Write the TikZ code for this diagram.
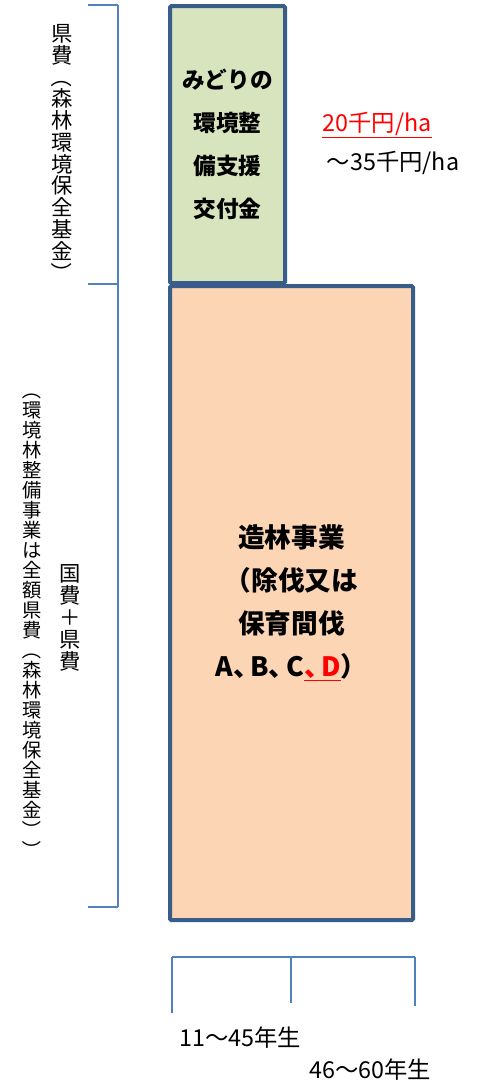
\documentclass[tikz,border=0pt]{standalone}
\usepackage{fontspec}
\setmainfont{Noto Sans CJK JP}
\usepackage{tikz}
\usetikzlibrary{positioning}
\definecolor{boxline}{HTML}{385D8A}
\definecolor{brace}{HTML}{4F81BD}
\definecolor{greenfill}{HTML}{D7E4BD}
\definecolor{orangefill}{HTML}{FCD5B5}
\tikzstyle{fundbox} = [rectangle, draw=boxline, line width=3pt, rounded corners=1pt, inner sep=0pt, align=center, font=\bfseries]
\tikzstyle{vtext} = [inner sep=0pt, align=center]
\tikzstyle{label} = [inner sep=0pt, font=\fontsize{17.5}{20}\selectfont]
\tikzstyle{line} = [draw=brace, line width=1.2pt]
\newcommand{\vparen}[1]{\rotatebox[origin=c]{-90}{#1}}
\newcommand{\tc}{、\kern-0.35em}

\begin{document}
\begin{tikzpicture}[x=0.75pt, y=-0.75pt]
	\useasboundingbox (0,0) rectangle (493,1083);
	% Place nodes
	\node [fundbox, fill=orangefill, minimum width=182.25pt, minimum height=475.5pt,
	font=\bfseries\fontsize{20}{32.25}\selectfont] (zorin) at (291.5,603)
	{造林事業\\（除伐又は\\保育間伐\\A\tc B\tc C{\color{red}\underline{\tc D}}）};
	\node [fundbox, fill=greenfill, minimum width=86.25pt, minimum height=207.75pt,
	font=\bfseries\fontsize{17}{32.25}\selectfont] (midori) at (227.5,144.5)
	{みどりの\\環境整\\備支援\\交付金};
	\node [label, text=red] (rate) at (377,125) {\underline{20千円/ha}};
	\node [label] (ratemax) at (393,163) {～35千円/ha};
	\node [label] (young) at (240,1038) {11～45年生};
	\node [label] (old) at (370,1070) {46～60年生};
	\node [vtext, font=\fontsize{16}{16.35}\selectfont] (kenhi) at (62,154)
	{県\\費\\\vparen{（}\\森\\林\\環\\境\\保\\全\\基\\金\\\vparen{）}};
	\node [vtext, font=\fontsize{16}{16.5}\selectfont] (kokuhi) at (70,618)
	{国\\費\\＋\\県\\費};
	\node [vtext, font=\fontsize{14.5}{15}\selectfont] (kankyo) at (32,620)
	{\vparen{（}\\環\\境\\林\\整\\備\\事\\業\\は\\全\\額\\県\\費\\\vparen{（}\\森\\林\\環\\境\\保\\全\\基\\金\\\vparen{）}\\\vparen{）}};
	% Brackets
	\coordinate (ltop) at (118,5);
	\coordinate (lmid) at (118,284);
	\coordinate (lbot) at (118,907);
	\coordinate (bl) at (172,957);
	\coordinate (bm) at (291,957);
	\coordinate (br) at (415,957);
	\path [line] (ltop) -- (lbot);
	\path [line] (ltop) -- ++(-30,0);
	\path [line] (lmid) -- ++(-30,0);
	\path [line] (lbot) -- ++(-30,0);
	\path [line] (bl) -- (br);
	\path [line] (bl) -- ++(0,56);
	\path [line] (bm) -- ++(0,46);
	\path [line] (br) -- ++(0,49);
\end{tikzpicture}
\end{document}
